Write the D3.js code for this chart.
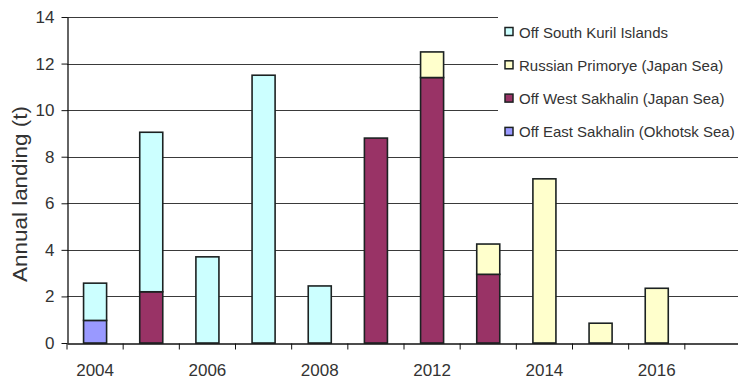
<!DOCTYPE html>
<html>
<head>
<meta charset="utf-8">
<script src="https://cdn.jsdelivr.net/npm/d3@7"></script>
<style>
  html, body { margin: 0; padding: 0; background: #fff; }
  svg { display: block; }
  text { font-family: "Liberation Sans", Arial, sans-serif; fill: #333; }
</style>
</head>
<body>
<script>
// ---- data ----
const categories = ["2004","2005","2006","2007","2008","2010","2012","2013","2014","2015","2016","2017"];
const shownLabels = ["2004","2006","2008","2012","2014","2016"];
const eastSakhalin = [0.97, 0, 0, 0, 0, 0, 0, 0, 0, 0, 0, 0];
const westSakhalin = [0, 2.2, 0, 0, 0, 8.8, 11.4, 2.95, 0, 0, 0, 0];
const primorye     = [0, 0, 0, 0, 0, 0, 1.1, 1.3, 7.05, 0.85, 2.35, 0];
const southKuril   = [1.6, 6.85, 3.7, 11.5, 2.45, 0, 0, 0, 0, 0, 0, 0];
const seriesNames = ["Off East Sakhalin (Okhotsk Sea)", "Off West Sakhalin (Japan Sea)", "Russian Primorye (Japan Sea)", "Off South Kuril Islands"];
const seriesColors = ["#9999ff", "#993366", "#ffffcc", "#ccffff"];
const yTicks = [0, 2, 4, 6, 8, 10, 12, 14];

const W = 738, H = 381;
const svg = d3.select("body").append("svg").attr("width", W).attr("height", H);

const x0 = 67, x1 = 741, yTop = 17, yBot = 343;
const x = d3.scaleBand().domain(categories).range([x0, x1]).paddingInner(0.59).paddingOuter(0.295);
const y = d3.scaleLinear().domain([0, 14]).range([yBot, yTop]);

const rows = categories.map((c, i) => ({
  cat: c,
  s0: eastSakhalin[i], s1: westSakhalin[i], s2: primorye[i], s3: southKuril[i]
}));
const stack = d3.stack().keys(["s0", "s1", "s2", "s3"])(rows);

// gridlines
svg.append("g").selectAll("line").data(yTicks.filter(v => v > 0)).join("line")
  .attr("x1", x0).attr("x2", W)
  .attr("y1", d => Math.round(y(d)) + 0.5).attr("y2", d => Math.round(y(d)) + 0.5)
  .attr("stroke", "#3a3a3a").attr("stroke-width", 1);

// bars
svg.append("g").selectAll("g").data(stack).join("g")
  .attr("fill", (d, i) => seriesColors[i])
  .selectAll("rect").data(d => d.filter(p => p[1] - p[0] > 0)).join("rect")
  .attr("x", d => x(d.data.cat))
  .attr("width", x.bandwidth())
  .attr("y", d => y(d[1]))
  .attr("height", d => y(d[0]) - y(d[1]))
  .attr("stroke", "#1c2222").attr("stroke-width", 1.6);

// legend background (covers upper gridlines)
svg.append("rect").attr("x", 498).attr("y", 8).attr("width", W - 498).attr("height", 148).attr("fill", "#fff");

// legend
const legendOrder = [3, 2, 1, 0];
const lg = svg.append("g").selectAll("g").data(legendOrder).join("g")
  .attr("transform", (d, i) => `translate(505, ${32 + i * 33.3})`);
lg.append("rect").attr("x", 0).attr("y", -4.5).attr("width", 8).attr("height", 8)
  .attr("fill", d => seriesColors[d]).attr("stroke", "#1c2222").attr("stroke-width", 1.5);
lg.append("text").attr("x", 14).attr("y", 5.5).attr("font-size", 15).text(d => seriesNames[d]);

// y axis
const yAxis = svg.append("g").attr("transform", `translate(${x0 + 0.5},0)`)
  .call(d3.axisLeft(y).tickValues(yTicks).tickSize(6).tickSizeOuter(0).tickPadding(7));
yAxis.select(".domain").attr("stroke", "#111").attr("stroke-width", 1.3);
yAxis.selectAll(".tick line").attr("stroke", "#111");
yAxis.selectAll(".tick text").attr("font-size", 17).attr("fill", "#333").style("font-family", "Liberation Sans, Arial, sans-serif");

// x axis
const step = x.step();
const xAxis = svg.append("g").attr("transform", `translate(0,${yBot + 0.5})`)
  .call(d3.axisBottom(x).tickSize(6).tickSizeOuter(0).tickPadding(14)
    .tickFormat(d => shownLabels.includes(d) ? d : ""));
xAxis.select(".domain").attr("stroke", "#111").attr("stroke-width", 1.3);
xAxis.selectAll(".tick line").attr("stroke", "#111").attr("transform", `translate(${-step / 2},0)`);
xAxis.selectAll(".tick text").attr("font-size", 17).attr("fill", "#333").style("font-family", "Liberation Sans, Arial, sans-serif");

// y title
svg.append("text")
  .attr("transform", `translate(27, ${(yTop + yBot) / 2 + 14}) rotate(-90)`)
  .attr("text-anchor", "middle")
  .attr("font-size", 20)
  .attr("textLength", 176).attr("lengthAdjust", "spacingAndGlyphs")
  .text("Annual landing (t)");
</script>
</body>
</html>
